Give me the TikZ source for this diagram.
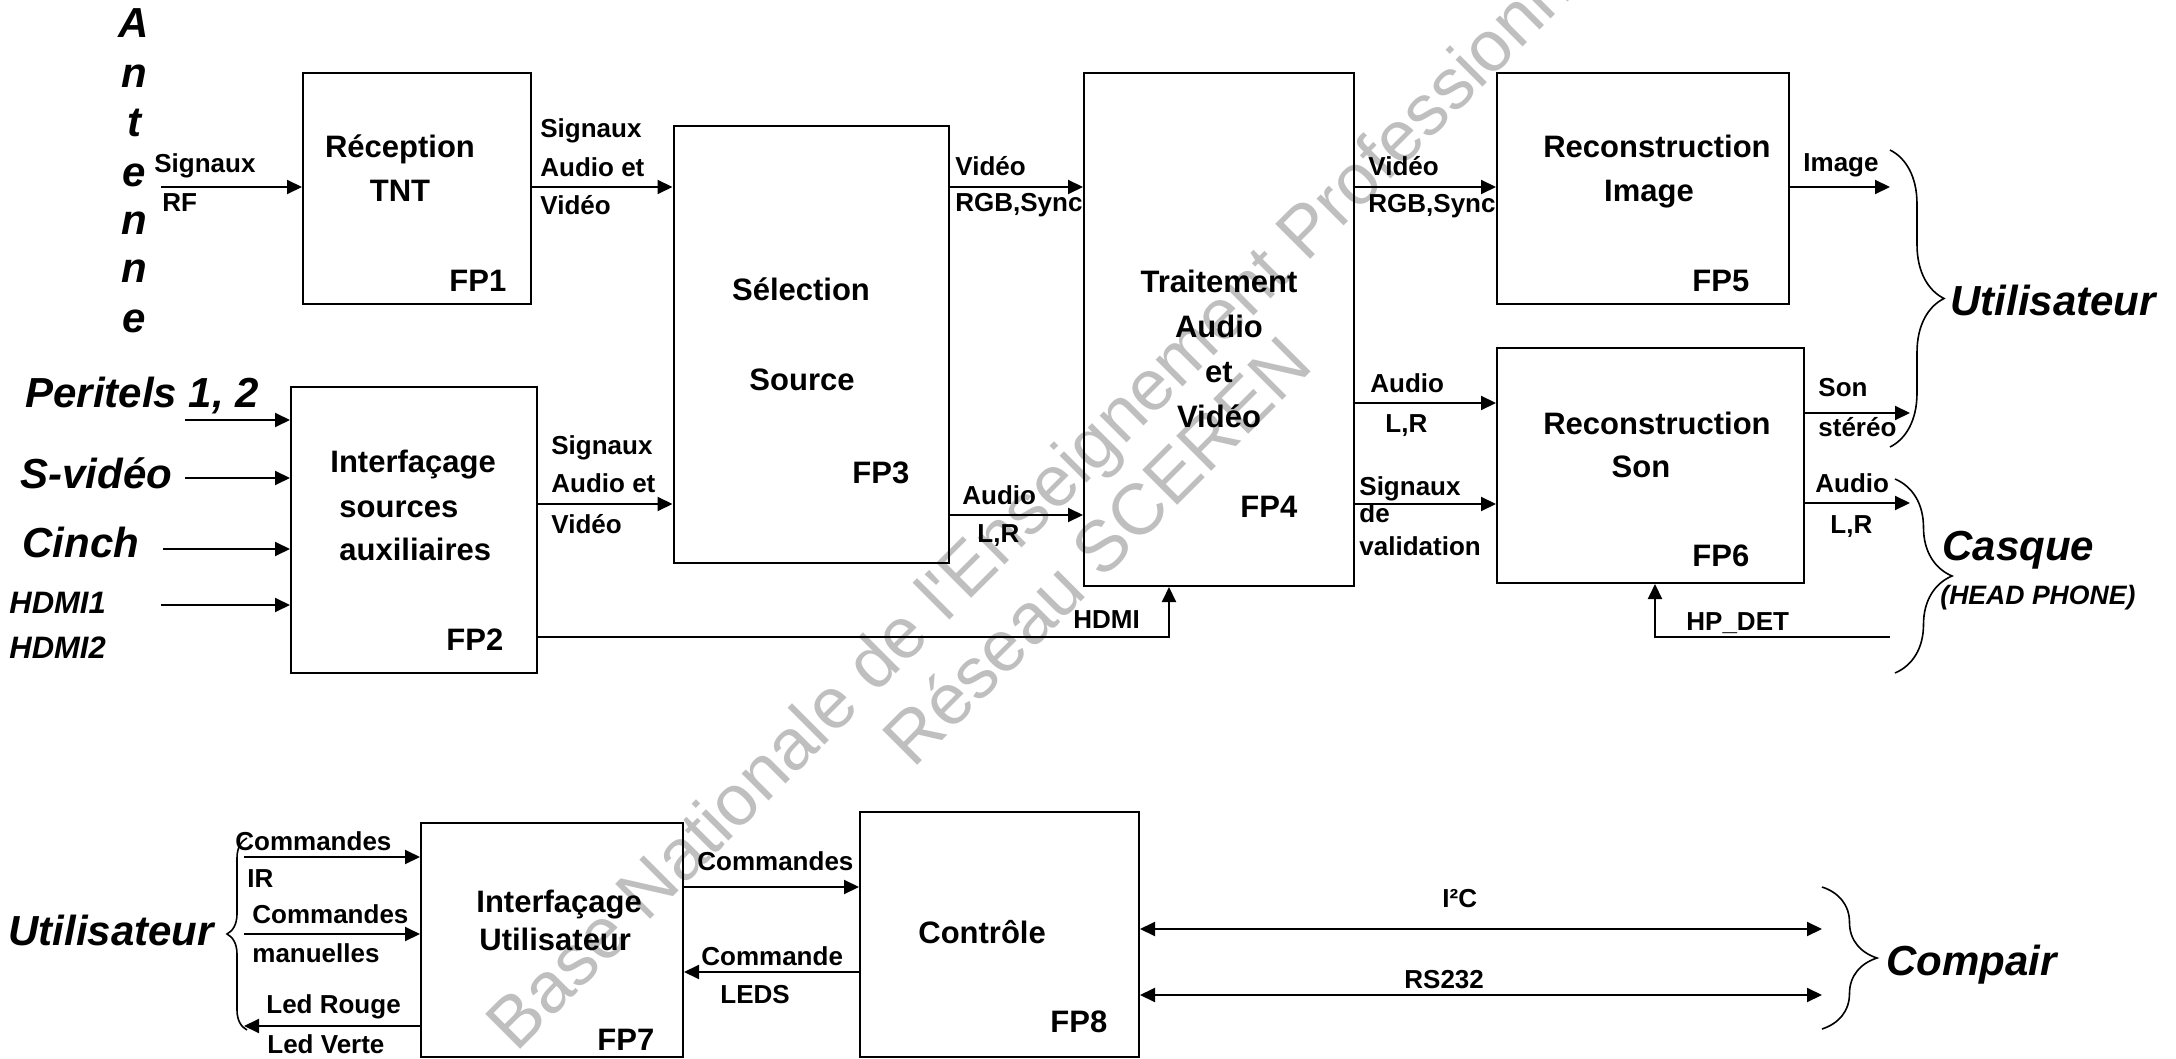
\documentclass[tikz,border=0pt]{standalone}
\usepackage{fontspec}
\setmainfont{Liberation Sans}
\usetikzlibrary{arrows.meta,fit,decorations.pathreplacing}
\begin{document}
\begin{tikzpicture}[x=0.5pt,y=-0.5pt,
  box/.style={draw, line width=1pt, inner sep=0pt, rectangle},
  arr/.style={line width=1pt, -{Triangle[length=7.5pt,width=7pt]}},
  darr/.style={line width=1pt, {Triangle[length=7.5pt,width=7pt]}-{Triangle[length=7.5pt,width=7pt]}},
  lbl/.style={font=\bfseries\fontsize{13}{15}\selectfont, inner sep=0pt, anchor=base west},
  ttl/.style={font=\bfseries\fontsize{15.5}{18}\selectfont, inner sep=0pt, anchor=base},
  ttlw/.style={font=\bfseries\fontsize{15.5}{18}\selectfont, inner sep=0pt, anchor=base west},
  ext/.style={font=\bfseries\itshape\fontsize{21}{24}\selectfont, inner sep=0pt, anchor=base west},
  extm/.style={font=\bfseries\itshape\fontsize{15.5}{18}\selectfont, inner sep=0pt, anchor=base west},
  exts/.style={font=\bfseries\itshape\fontsize{13.3}{15}\selectfont, inner sep=0pt, anchor=base west},
  brc/.style={decorate, decoration={brace, amplitude=#1}, line width=0.8pt},
  wm/.style={font=\fontsize{36}{40}\selectfont, text=black!25, inner sep=0pt, anchor=base west, rotate=45}
]
\useasboundingbox (0,0) rectangle (2176,1059);

% watermark
\node[wm] (wm1) at (516,1054) {Base Nationale de l\textquotesingle Enseignement Professionnel};
\node[wm] (wm2) at (913,770) {Réseau SCEREN};

% boxes
\node[box, fit={(303,73)(531,304)}] (fp1) {};
\node[box, fit={(291,387)(537,673)}] (fp2) {};
\node[box, fit={(673.5,126)(949,563)}] (fp3) {};
\node[box, fit={(1084,73)(1354,586)}] (fp4) {};
\node[box, fit={(1497,73)(1789,304)}] (fp5) {};
\node[box, fit={(1497,348)(1804,583)}] (fp6) {};
\node[box, fit={(421,823)(683,1057)}] (fp7) {};
\node[box, fit={(860,812)(1139,1057)}] (fp8) {};

% box texts
\node[ttl] (t1a) at (400,158) {Réception};
\node[ttl] (t1b) at (400,202) {TNT};
\node[ttlw] (n1) at (449,292) {FP1};
\node[ttlw] (t2a) at (330,473) {Interfaçage};
\node[ttlw] (t2b) at (339,517) {sources};
\node[ttlw] (t2c) at (339,560) {auxiliaires};
\node[ttlw] (n2) at (446,650) {FP2};
\node[ttl] (t3a) at (801,301) {Sélection};
\node[ttl] (t3b) at (802,391) {Source};
\node[ttlw] (n3) at (852,483) {FP3};
\node[ttl] (t4a) at (1219,293) {Traitement};
\node[ttl] (t4b) at (1219,338) {Audio};
\node[ttl] (t4c) at (1219,383) {et};
\node[ttl] (t4d) at (1219,428) {Vidéo};
\node[ttlw] (n4) at (1240,517) {FP4};
\node[ttl] (t5a) at (1657,158) {Reconstruction};
\node[ttl] (t5b) at (1649,202) {Image};
\node[ttlw] (n5) at (1692,292) {FP5};
\node[ttl] (t6a) at (1657,435) {Reconstruction};
\node[ttl] (t6b) at (1641,478) {Son};
\node[ttlw] (n6) at (1692,567) {FP6};
\node[ttlw] (t7a) at (476,912) {Interfaçage};
\node[ttlw] (t7b) at (479,950) {Utilisateur};
\node[ttlw] (n7) at (597,1050) {FP7};
\node[ttlw] (t8a) at (918,943) {Contrôle};
\node[ttlw] (n8) at (1050,1032) {FP8};

% external labels
\foreach \c/\y [count=\i] in {A/38,n/88,t/137,e/187,n/235,n/283,e/333}
  \node[ext, anchor=base] (ant\i) at (134,\y) {\c};
\node[ext] (e1) at (25,408) {Peritels 1, 2};
\node[ext] (e2) at (20,488) {S-vidéo};
\node[ext] (e3) at (22,557) {Cinch};
\node[extm] (e4) at (9,613) {HDMI1};
\node[extm] (e5) at (9,658) {HDMI2};
\node[ext] (e6) at (1950,316) {Utilisateur};
\node[ext] (e7) at (1942,560) {Casque};
\node[exts] (e8) at (1940,604) {(HEAD PHONE)};
\node[ext] (e9) at (1886,975) {Compair};
\node[ext] (e10) at (8,945) {Utilisateur};

% connectors top
\coordinate (rf) at (161,187);
\coordinate (ytop) at (0,187);
\coordinate (imgout) at (1890,187);
\draw[arr] (rf) -- (fp1.west |- rf);
\draw[arr] (fp1.east |- ytop) -- (fp3.west |- ytop);
\draw[arr] (fp3.east |- ytop) -- (fp4.west |- ytop);
\draw[arr] (fp4.east |- ytop) -- (fp5.west |- ytop);
\draw[arr] (fp5.east |- imgout) -- (imgout);

\coordinate (in1) at (185,420);
\coordinate (in2) at (185,478);
\coordinate (in3) at (163,549);
\coordinate (in4) at (161,605);
\draw[arr] (in1) -- (fp2.west |- in1);
\draw[arr] (in2) -- (fp2.west |- in2);
\draw[arr] (in3) -- (fp2.west |- in3);
\draw[arr] (in4) -- (fp2.west |- in4);

\coordinate (y2) at (0,504);
\coordinate (y3) at (0,515);
\coordinate (y4) at (0,403);
\coordinate (hd) at (1169,637);
\draw[arr] (fp2.east |- y2) -- (fp3.west |- y2);
\draw[arr] (fp3.east |- y3) -- (fp4.west |- y3);
\draw[arr] (fp2.east |- hd) -- (hd) -- (hd |- fp4.south);
\draw[arr] (fp4.east |- y4) -- (fp6.west |- y4);
\draw[arr] (fp4.east |- y2) -- (fp6.west |- y2);

\coordinate (son) at (1910,413);
\coordinate (aud) at (1910,503);
\coordinate (hpa) at (1890,637);
\coordinate (hpb) at (1655,637);
\draw[arr] (fp6.east |- son) -- (son);
\draw[arr] (fp6.east |- aud) -- (aud);
\draw[arr] (hpa) -- (hpb) -- (hpb |- fp6.south);

% connectors bottom
\coordinate (ir) at (244,857);
\coordinate (man) at (244,934);
\coordinate (led) at (244,1026);
\coordinate (y7) at (0,887);
\coordinate (y8) at (0,972);
\coordinate (i2c) at (1822,929);
\coordinate (rs) at (1822,995);
\draw[arr] (ir) -- (fp7.west |- ir);
\draw[arr] (man) -- (fp7.west |- man);
\draw[arr] (fp7.west |- led) -- (led);
\draw[arr] (fp7.east |- y7) -- (fp8.west |- y7);
\draw[arr] (fp8.west |- y8) -- (fp7.east |- y8);
\draw[darr] (fp8.east |- i2c) -- (i2c);
\draw[darr] (fp8.east |- rs) -- (rs);

% braces
\coordinate (b1t) at (1890,150); \coordinate (b1b) at (1890,447);
\coordinate (b2t) at (1895,479); \coordinate (b2b) at (1895,673);
\coordinate (b3t) at (1822,887); \coordinate (b3b) at (1822,1029);
\coordinate (b4t) at (247,838);  \coordinate (b4b) at (247,1030);
\draw[brc=27pt] (b1t) -- (b1b);
\draw[brc=28.5pt] (b2t) -- (b2b);
\draw[brc=27.5pt] (b3t) -- (b3b);
\draw[brc=10pt] (b4b) -- (b4t);

% connector labels
\node[lbl] (l1) at (154,173) {Signaux};
\node[lbl] (l2) at (162,212) {RF};
\node[lbl] (l3) at (540,138) {Signaux};
\node[lbl] (l4) at (540,177) {Audio et};
\node[lbl] (l5) at (540,215) {Vidéo};
\node[lbl] (l6) at (955,176) {Vidéo};
\node[lbl] (l7) at (955,212) {RGB,Sync};
\node[lbl] (l8) at (962,504) {Audio};
\node[lbl] (l9) at (977,542) {L,R};
\node[lbl] (l10) at (551,455) {Signaux};
\node[lbl] (l11) at (551,493) {Audio et};
\node[lbl] (l12) at (551,533) {Vidéo};
\node[lbl] (l13) at (1073,628) {HDMI};
\node[lbl] (l14) at (1368,176) {Vidéo};
\node[lbl] (l15) at (1368,213) {RGB,Sync};
\node[lbl] (l16) at (1803,172) {Image};
\node[lbl] (l17) at (1370,393) {Audio};
\node[lbl] (l18) at (1385,433) {L,R};
\node[lbl] (l19) at (1359,495) {Signaux};
\node[lbl] (l20) at (1359,523) {de};
\node[lbl] (l21) at (1359,555) {validation};
\node[lbl] (l22) at (1818,397) {Son};
\node[lbl] (l23) at (1818,437) {stéréo};
\node[lbl] (l24) at (1815,493) {Audio};
\node[lbl] (l25) at (1830,533) {L,R};
\node[lbl] (l26) at (1686,630) {HP\_DET};
\node[lbl] (l27) at (235,850) {Commandes};
\node[lbl] (l28) at (247,887) {IR};
\node[lbl] (l29) at (252,923) {Commandes};
\node[lbl] (l30) at (252,962) {manuelles};
\node[lbl] (l31) at (266,1013) {Led Rouge};
\node[lbl] (l32) at (267,1053) {Led Verte};
\node[lbl] (l33) at (697,870) {Commandes};
\node[lbl] (l34) at (701,965) {Commande};
\node[lbl] (l35) at (720,1003) {LEDS};
\node[lbl] (l36) at (1442,907) {I²C};
\node[lbl] (l37) at (1404,988) {RS232};
\end{tikzpicture}
\end{document}
